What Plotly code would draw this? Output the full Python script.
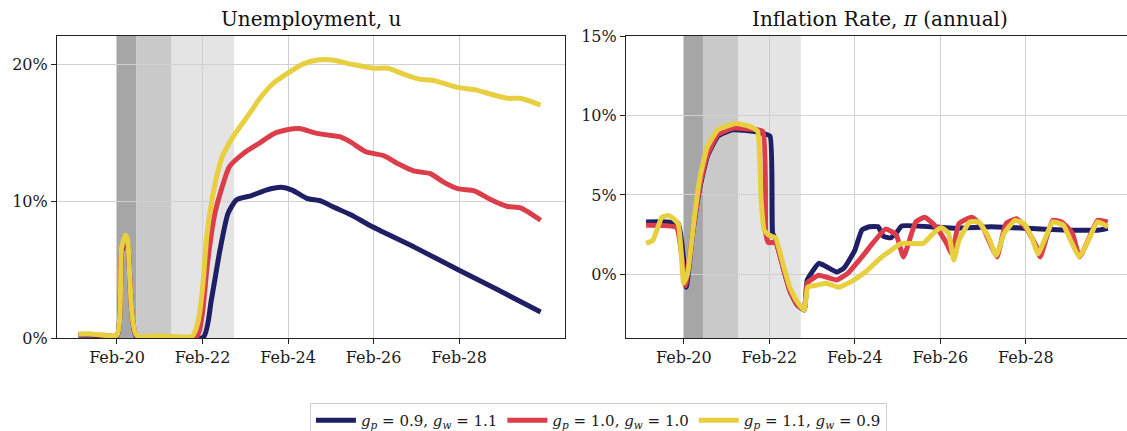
import plotly.graph_objects as go

# time in decimal years
u_x_low = [2019.18, 2019.48, 2019.78, 2020.08, 2020.19, 2020.28, 2020.33, 2020.54, 2021.08,
           2022.10, 2022.29, 2022.49, 2022.68, 2022.88, 2023.23, 2023.57, 2023.92, 2024.18,
           2024.52, 2024.86, 2025.12, 2025.55, 2026.07, 2027.06, 2028.05, 2029.00, 2029.99]
u_low = [0.2, 0.2, 0.15, 0.15, 6.3, 7.1, 6.9, 0.1, 0.05,
         0.05, 2.8, 6.4, 9.1, 10.1, 10.4, 10.8, 11.0, 10.8,
         10.2, 10.0, 9.6, 9.0, 8.1, 6.6, 5.0, 3.5, 1.9]

u_x_mid = [2019.18, 2019.48, 2019.78, 2020.08, 2020.19, 2020.28, 2020.33, 2020.54, 2021.08,
           2021.95, 2022.08, 2022.19, 2022.36, 2022.54, 2022.71, 2023.05, 2023.40, 2023.74,
           2024.06, 2024.35, 2024.69, 2024.95, 2025.29, 2025.55, 2025.90, 2026.33, 2026.67,
           2027.02, 2027.41, 2027.71, 2028.05, 2028.44, 2028.83, 2029.22, 2029.52, 2029.99]
u_mid = [0.25, 0.25, 0.2, 0.2, 6.4, 7.2, 7.0, 0.15, 0.1,
         0.1, 1.8, 5.2, 8.9, 11.0, 12.5, 13.5, 14.2, 14.9,
         15.2, 15.3, 15.0, 14.85, 14.7, 14.3, 13.6, 13.3, 12.7,
         12.2, 12.0, 11.4, 10.9, 10.75, 10.1, 9.6, 9.5, 8.6]

u_x_high = [2019.18, 2019.48, 2019.78, 2020.08, 2020.19, 2020.28, 2020.33, 2020.54, 2021.08,
            2021.85, 2021.98, 2022.08, 2022.19, 2022.36, 2022.54, 2022.80, 2023.23, 2023.40,
            2023.74, 2024.06, 2024.43, 2024.78, 2025.12, 2025.55, 2026.07, 2026.42, 2026.76,
            2027.15, 2027.49, 2028.05, 2028.49, 2028.83, 2029.22, 2029.52, 2029.99]
u_high = [0.3, 0.3, 0.2, 0.2, 6.6, 7.5, 7.2, 0.2, 0.15,
          0.15, 1.2, 3.5, 7.6, 11.0, 13.2, 14.7, 16.6, 17.4,
          18.6, 19.3, 20.0, 20.3, 20.3, 20.0, 19.7, 19.7, 19.3,
          18.9, 18.8, 18.3, 18.1, 17.8, 17.5, 17.5, 17.0]

pi_x_low = [2019.20, 2019.95, 2020.14, 2020.29, 2020.46, 2020.63, 2020.88, 2021.22, 2021.55,
            2021.89, 2022.10, 2022.16, 2022.23, 2022.40, 2022.56, 2022.73, 2022.90, 2022.97,
            2023.24, 2023.41, 2023.66, 2023.83, 2024.08, 2024.25, 2024.42, 2024.63, 2024.75,
            2024.92, 2025.05, 2025.18, 2026.44, 2027.28, 2028.12, 2028.96, 2029.80, 2030.0]
pi_low = [3.3, 3.2, -0.8, 2.6, 5.5, 7.4, 8.7, 9.1, 9.05,
          8.9, 8.7, 2.6, 2.2, 0.5, -1.0, -1.9, -2.25, -0.35,
          0.7, 0.5, 0.15, 0.4, 1.5, 2.8, 3.0, 3.0, 2.4,
          2.3, 2.6, 3.05, 2.9, 3.0, 2.9, 2.8, 2.8, 2.9]

pi_x_mid = [2019.20, 2019.91, 2020.12, 2020.29, 2020.46, 2020.63, 2020.88, 2021.22, 2021.55,
            2021.93, 2022.00, 2022.06, 2022.23, 2022.40, 2022.56, 2022.73, 2022.90, 2022.97,
            2023.24, 2023.66, 2023.91, 2024.25, 2024.50, 2024.80, 2025.05, 2025.22, 2025.51,
            2025.72, 2025.98, 2026.23, 2026.35, 2026.52, 2026.82, 2027.07, 2027.28, 2027.41,
            2027.62, 2027.87, 2028.12, 2028.33, 2028.42, 2028.71, 2028.92, 2029.17, 2029.34,
            2029.55, 2029.76, 2030.0]
pi_mid = [3.1, 2.95, -0.7, 2.7, 5.6, 7.5, 8.8, 9.2, 9.15,
          9.0, 2.6, 2.0, 2.0, 0.5, -1.0, -1.9, -2.2, -0.55,
          -0.05, -0.35, 0.05, 1.1, 1.95, 2.85, 2.5, 1.1, 3.3,
          3.6, 3.0, 1.95, 1.3, 3.2, 3.6, 3.0, 1.75, 1.1,
          3.2, 3.5, 2.8, 1.75, 1.1, 3.4, 3.3, 2.6, 1.1,
          2.2, 3.4, 3.3]

pi_x_high = [2019.20, 2019.36, 2019.57, 2019.74, 2019.95, 2020.08, 2020.17, 2020.33, 2020.46,
             2020.63, 2020.88, 2021.30, 2021.64, 2021.81, 2021.89, 2021.96, 2022.06, 2022.14,
             2022.23, 2022.40, 2022.56, 2022.73, 2022.90, 2022.98, 2023.15, 2023.41, 2023.70,
             2024.00, 2024.33, 2024.67, 2024.92, 2025.17, 2025.42, 2025.68, 2025.89, 2026.10,
             2026.27, 2026.40, 2026.52, 2026.77, 2026.98, 2027.20, 2027.39, 2027.58, 2027.83,
             2028.04, 2028.21, 2028.37, 2028.54, 2028.71, 2028.96, 2029.13, 2029.33, 2029.55,
             2029.76, 2030.0]
pi_high = [1.95, 2.15, 3.6, 3.7, 3.2, -0.55, 0.05, 3.6, 6.1,
           8.0, 9.1, 9.5, 9.3, 9.0, 4.7, 2.8, 2.5, 2.4,
           2.3, 0.7, -0.8, -1.7, -2.25, -0.8, -0.7, -0.55, -0.8,
           -0.45, 0.15, 1.0, 1.5, 1.95, 1.95, 1.95, 2.5, 2.95,
           2.6, 0.9, 2.15, 3.3, 3.3, 2.4, 1.2, 2.6, 3.4,
           3.2, 2.4, 1.3, 2.3, 3.3, 3.1, 2.15, 1.1, 2.15,
           3.3, 3.0]

scenario_names = ["<i>g</i><sub><i>p</i></sub> = 0.9, <i>g</i><sub><i>w</i></sub> = 1.1",
                  "<i>g</i><sub><i>p</i></sub> = 1.0, <i>g</i><sub><i>w</i></sub> = 1.0",
                  "<i>g</i><sub><i>p</i></sub> = 1.1, <i>g</i><sub><i>w</i></sub> = 0.9"]
colors = ["#1f1f66", "#dc3d4b", "#e8cf3f"]

tick_years = [2020.083, 2022.083, 2024.083, 2026.083, 2028.083]
tick_text = ["Feb-20", "Feb-22", "Feb-24", "Feb-26", "Feb-28"]
u_ticks = [0, 10, 20]
u_tick_text = ["0%", "10%", "20%"]
pi_ticks = [0, 5, 10, 15]
pi_tick_text = ["0%", "5%", "10%", "15%"]

# shaded periods (start, end, colour)
shade_periods = [(2020.083, 2020.53, "#a6a6a6"),
                 (2020.53, 2021.36, "#c9c9c9"),
                 (2021.36, 2022.82, "#e4e4e4")]

FONT = "DejaVu Serif"

fig = go.Figure()

u_series = [(u_x_low, u_low), (u_x_mid, u_mid), (u_x_high, u_high)]
pi_series = [(pi_x_low, pi_low), (pi_x_mid, pi_mid), (pi_x_high, pi_high)]

for i, (x, y) in enumerate(u_series):
    fig.add_trace(go.Scatter(
        x=x, y=y, mode="lines", name=scenario_names[i],
        line=dict(color=colors[i], width=5, shape="spline", smoothing=0.6),
        xaxis="x", yaxis="y", legendgroup=str(i)
    ))

for i, (x, y) in enumerate(pi_series):
    fig.add_trace(go.Scatter(
        x=x, y=y, mode="lines", name=scenario_names[i], showlegend=False,
        line=dict(color=colors[i], width=5, shape="spline", smoothing=0.4),
        xaxis="x2", yaxis="y2", legendgroup=str(i)
    ))

for xref, yref in [("x", "y domain"), ("x2", "y2 domain")]:
    for x0, x1, c in shade_periods:
        fig.add_shape(type="rect", xref=xref, yref=yref, x0=x0, x1=x1, y0=0, y1=1,
                      fillcolor=c, line_width=0, layer="below")

axis_common = dict(
    showline=True, linecolor="#222222", linewidth=1.2, mirror=True,
    ticks="outside", ticklen=5, tickcolor="#222222",
    showgrid=True, gridcolor="#d0d0d0", gridwidth=1, zeroline=False,
    tickfont=dict(family=FONT, size=16, color="#1a1a1a"), automargin=False,
)

fig.update_layout(
    width=1127, height=431,
    margin=dict(l=0, r=0, t=36, b=93, autoexpand=False),
    plot_bgcolor="white", paper_bgcolor="white",
    xaxis=dict(domain=[57 / 1127, 565 / 1127], range=[2018.68, 2030.56],
               tickvals=tick_years, ticktext=tick_text, **axis_common),
    yaxis=dict(range=[0, 22.05], tickvals=u_ticks, ticktext=u_tick_text, **axis_common),
    xaxis2=dict(domain=[626 / 1127, 1.0], range=[2018.73, 2030.45],
                tickvals=tick_years, ticktext=tick_text, anchor="y2", **axis_common),
    yaxis2=dict(range=[-4, 15], tickvals=pi_ticks, ticktext=pi_tick_text, anchor="x2",
                **axis_common),
    legend=dict(orientation="h", x=0.531, xanchor="center", y=-0.215, yanchor="top",
                bordercolor="#cccccc", borderwidth=1,
                font=dict(family=FONT, size=15, color="#1a1a1a"),
                itemwidth=40, traceorder="normal"),
    showlegend=True,
    annotations=[
        dict(text="Unemployment, u", x=(57 + 565) / 2 / 1127, y=1.0, xref="paper",
             yref="paper", xanchor="center", yanchor="bottom", yshift=3, showarrow=False,
             font=dict(family=FONT, size=20, color="#111111")),
        dict(text="Inflation Rate, <i>π</i> (annual)", x=(626 + 1134) / 2 / 1127, y=1.0,
             xref="paper", yref="paper", xanchor="center", yanchor="bottom", yshift=3,
             showarrow=False, font=dict(family=FONT, size=20, color="#111111")),
    ],
)

fig.write_html("out.html", config={"displayModeBar": False},
               post_script="document.body.style.margin='0';document.body.style.overflow='hidden';")
